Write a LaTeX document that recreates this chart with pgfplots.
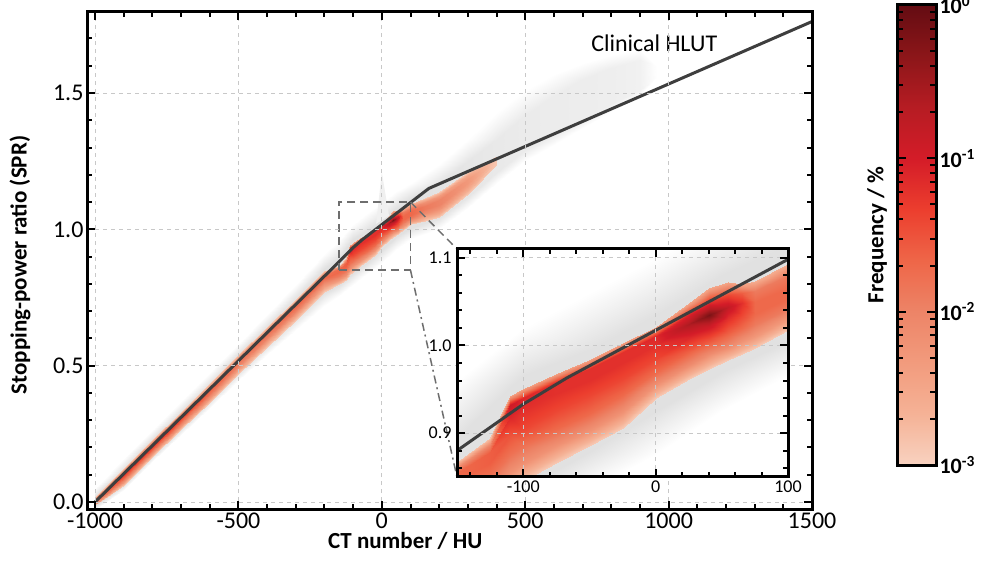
\documentclass[border=0pt]{standalone}
\usepackage{fontspec}
\setmainfont{Carlito}
\usepackage{pgfplots}
\usepackage{pgfplotstable}
\pgfplotsset{compat=1.18}

\definecolor{hlut}{RGB}{62,62,62}
\definecolor{gridc}{RGB}{200,200,200}
\definecolor{boxc}{RGB}{110,110,110}

% red band of the 2D histogram: 7 points across the band per CT number
% columns: x (HU), y (SPR), c = log10(frequency / %)
\pgfplotstableread{
x y c
-1000 -0.012 -2.9
-1000 -0.006 -2.3
-1000 0.000 -1.8
-1000 0.004 -1.6
-1000 0.008 -1.9
-1000 0.013 -2.4
-1000 0.018 -2.9
-900 0.062 -2.9
-900 0.074 -2.3
-900 0.088 -1.7
-900 0.101 -1.2
-900 0.109 -1.5
-900 0.116 -2.2
-900 0.124 -2.9
-800 0.164 -2.9
-800 0.176 -2.3
-800 0.191 -1.7
-800 0.204 -1.1
-800 0.212 -1.5
-800 0.219 -2.2
-800 0.227 -2.9
-700 0.266 -2.9
-700 0.279 -2.3
-700 0.294 -1.8
-700 0.307 -1.3
-700 0.315 -1.6
-700 0.323 -2.2
-700 0.331 -2.9
-600 0.368 -2.9
-600 0.382 -2.3
-600 0.397 -1.9
-600 0.410 -1.6
-600 0.419 -1.8
-600 0.427 -2.3
-600 0.435 -2.9
-500 0.470 -2.9
-500 0.485 -2.4
-500 0.500 -2.0
-500 0.513 -1.8
-500 0.522 -2.0
-500 0.530 -2.4
-500 0.538 -2.9
-400 0.570 -2.9
-400 0.586 -2.4
-400 0.602 -2.0
-400 0.616 -1.8
-400 0.626 -2.0
-400 0.634 -2.4
-400 0.643 -2.9
-300 0.668 -2.9
-300 0.685 -2.4
-300 0.702 -2.0
-300 0.718 -1.7
-300 0.728 -1.9
-300 0.737 -2.4
-300 0.746 -2.9
-200 0.770 -2.9
-200 0.787 -2.4
-200 0.805 -2.0
-200 0.822 -1.7
-200 0.832 -1.8
-200 0.840 -2.3
-200 0.848 -2.9
-150 0.800 -2.9
-150 0.815 -2.3
-150 0.830 -1.9
-150 0.845 -1.7
-150 0.855 -1.7
-150 0.861 -2.1
-150 0.867 -2.8
-125 0.815 -2.9
-125 0.832 -2.2
-125 0.850 -1.8
-125 0.866 -1.6
-125 0.878 -1.6
-125 0.886 -2.0
-125 0.894 -2.8
-110 0.835 -2.9
-110 0.855 -2.2
-110 0.875 -1.8
-110 0.898 -1.5
-110 0.918 -1.1
-110 0.932 -0.9
-110 0.942 -2.4
-100 0.845 -2.9
-100 0.865 -2.2
-100 0.885 -1.8
-100 0.905 -1.4
-100 0.925 -1.2
-100 0.940 -1.1
-100 0.950 -2.4
-75 0.866 -2.9
-75 0.885 -2.2
-75 0.905 -1.7
-75 0.925 -1.4
-75 0.945 -1.2
-75 0.958 -1.2
-75 0.967 -2.4
-50 0.885 -2.9
-50 0.903 -2.2
-50 0.922 -1.7
-50 0.942 -1.4
-50 0.960 -1.2
-50 0.973 -1.2
-50 0.983 -2.4
-25 0.906 -2.9
-25 0.924 -2.2
-25 0.943 -1.7
-25 0.962 -1.4
-25 0.980 -1.2
-25 0.993 -1.2
-25 1.003 -2.4
0 0.940 -2.9
0 0.955 -2.2
0 0.970 -1.7
0 0.985 -1.4
0 1.000 -1.2
0 1.011 -1.1
0 1.021 -2.4
25 0.962 -2.9
25 0.978 -2.1
25 0.994 -1.6
25 1.010 -1.1
25 1.024 -0.6
25 1.036 -1.1
25 1.048 -2.5
40 0.973 -2.9
40 0.990 -2.1
40 1.006 -1.5
40 1.022 -0.9
40 1.035 -0.2
40 1.050 -1.2
40 1.066 -2.5
55 0.983 -2.9
55 0.998 -2.1
55 1.014 -1.6
55 1.030 -1.2
55 1.044 -0.8
55 1.058 -1.4
55 1.072 -2.5
65 0.990 -2.9
65 1.005 -2.2
65 1.020 -1.7
65 1.035 -1.4
65 1.048 -1.2
65 1.060 -1.6
65 1.070 -2.5
75 0.997 -2.9
75 1.010 -2.3
75 1.023 -1.9
75 1.036 -1.7
75 1.050 -1.7
75 1.062 -1.9
75 1.074 -2.6
100 1.018 -2.9
100 1.030 -2.3
100 1.042 -1.9
100 1.054 -1.7
100 1.066 -1.7
100 1.080 -1.9
100 1.093 -2.6
150 1.031 -2.9
150 1.045 -2.5
150 1.059 -2.1
150 1.073 -1.9
150 1.087 -1.9
150 1.101 -2.2
150 1.115 -2.9
200 1.045 -2.9
200 1.060 -2.5
200 1.076 -2.2
200 1.091 -2.0
200 1.106 -2.0
200 1.122 -2.3
200 1.137 -2.9
300 1.130 -2.9
300 1.144 -2.6
300 1.158 -2.4
300 1.171 -2.3
300 1.185 -2.3
300 1.198 -2.5
300 1.212 -2.9
400 1.240 -2.9
400 1.245 -2.9
400 1.250 -2.9
400 1.255 -2.9
400 1.260 -2.9
400 1.265 -2.9
400 1.270 -2.9
}\band

% grey halo (frequencies below 1e-3): 4 points across per CT number
\pgfplotstableread{
x y c
-1000 -0.030 -3
-1000 -0.014 -0.3
-1000 0.022 -0.3
-1000 0.050 -3
-900 0.045 -3
-900 0.064 -0.3
-900 0.126 -0.3
-900 0.160 -3
-800 0.145 -3
-800 0.166 -0.3
-800 0.230 -0.3
-800 0.265 -3
-700 0.245 -3
-700 0.268 -0.3
-700 0.334 -0.3
-700 0.370 -3
-600 0.345 -3
-600 0.370 -0.3
-600 0.438 -0.3
-600 0.475 -3
-500 0.445 -3
-500 0.472 -0.3
-500 0.541 -0.3
-500 0.580 -3
-400 0.540 -3
-400 0.572 -0.3
-400 0.646 -0.3
-400 0.690 -3
-300 0.630 -3
-300 0.670 -0.3
-300 0.750 -0.3
-300 0.800 -3
-200 0.720 -3
-200 0.765 0
-200 0.855 0
-200 0.910 -3
-150 0.755 -3
-150 0.795 0
-150 0.895 0
-150 0.960 -3
-100 0.795 -3
-100 0.838 0
-100 0.965 0
-100 1.020 -3
-50 0.835 -3
-50 0.878 0
-50 0.995 0
-50 1.060 -3
0 0.875 -3
0 0.925 0
0 1.035 0
0 1.100 -3
50 0.925 -3
50 0.970 0
50 1.080 0
50 1.140 -3
100 0.965 -3
100 1.005 0
100 1.115 0
100 1.170 -3
200 1.000 -3
200 1.040 -0.2
200 1.165 -0.2
200 1.240 -3
300 1.080 -3
300 1.120 -0.5
300 1.250 -0.5
300 1.330 -3
400 1.170 -3
400 1.210 -0.8
400 1.330 -0.8
400 1.430 -3
500 1.250 -3
500 1.290 -1.0
500 1.420 -1.0
500 1.510 -3
600 1.310 -3
600 1.345 -1.1
600 1.490 -1.1
600 1.570 -3
700 1.370 -3
700 1.400 -1.2
700 1.550 -1.2
700 1.610 -3
800 1.430 -3
800 1.460 -1.3
800 1.590 -1.3
800 1.640 -3
900 1.490 -3
900 1.510 -1.6
900 1.620 -1.6
900 1.660 -3
960 1.560 -3
960 1.580 -3
960 1.600 -3
960 1.630 -3
}\halo

% clinical HLUT
\pgfplotstableread{
x y
-1000 0.000
-150 0.880
-100 0.933
-67 0.963
164 1.150
1500 1.762
}\hlut

% colour scale, log10(frequency / %)
\pgfplotstableread{
x y c
0 -3 -3
1 -3 -3
0 0 0
1 0 0
}\scale

\pgfplotsset{
  sprmap/.style={colormap={spr}{rgb255=(248,210,192) rgb255=(245,178,150)
    rgb255=(242,155,125) rgb255=(237,132,103) rgb255=(238,102,72)
    rgb255=(236,62,46) rgb255=(212,28,40) rgb255=(182,28,35)
    rgb255=(140,22,25) rgb255=(100,12,18)}},
  halomap/.style={colormap={halo}{rgb255=(255,255,255) rgb255=(225,225,225)}},
  frame/.style={
    scale only axis, anchor=south west, axis on top,
    tick align=inside,
    major tick length=8pt, minor tick length=5pt,
    tick style={black, line width=2pt},
    axis line style={line width=3pt},
    point meta min=-3, point meta max=0,
  },
}

\begin{document}
\begin{tikzpicture}
\useasboundingbox (0,0) rectangle (992pt,565pt);

\begin{axis}[
  frame, name=main, sprmap,
  grid=major,
  major grid style={gridc, line width=0.8pt, dash pattern=on 4pt off 4pt},
  at={(87pt,56pt)}, width=725pt, height=497pt,
  xmin=-1028, xmax=1500, ymin=-0.0257, ymax=1.797,
  xtick={-1000,-500,0,500,1000,1500},
  xticklabels={-1000,-500,0,500,1000,1500},
  minor xtick={-900,-800,...,1400},
  ytick={0,0.5,1,1.5},
  yticklabels={0.0,0.5,1.0,1.5},
  minor ytick={0.1,0.2,0.3,0.4,0.6,0.7,0.8,0.9,1.1,1.2,1.3,1.4,1.6,1.7},
  tick label style={font=\fontsize{24}{24}\selectfont},
  xlabel={CT number / HU},
  ylabel={Stopping-power ratio (SPR)},
  every axis x label/.style={at={(axis description cs:0.439,-0.0650)},anchor=center,
    font=\bfseries\fontsize{23}{23}\selectfont},
  every axis y label/.style={at={(axis description cs:-0.0924,0.491)},anchor=center,rotate=90,
    font=\bfseries\fontsize{23}{23}\selectfont},
]
\addplot[surf, shader=interp, halomap, mesh/rows=24, mesh/cols=4,
  point meta=\thisrow{c}] table[x=x, y=y] {\halo};
\addplot[fill=black!6, draw=none] coordinates {(-20,1.02) (0,1.21) (25,1.05)} -- cycle;
\addplot[surf, shader=interp, mesh/rows=27, mesh/cols=7,
  point meta=\thisrow{c}] table[x=x, y=y] {\band};
\addplot[hlut, line width=3pt] table[x=x, y=y] {\hlut};
\addplot[boxc, line width=1.5pt, dash pattern=on 8pt off 5pt]
  coordinates {(-150,0.85) (100,0.85) (100,1.1) (-150,1.1) (-150,0.85)};
\node[font=\fontsize{24}{24}\selectfont] at (axis cs:950,1.683) {Clinical HLUT};
\coordinate (bTR) at (axis cs:100,1.1);
\coordinate (bBR) at (axis cs:100,0.85);
\end{axis}

\draw[boxc, line width=1.5pt, dash pattern=on 8pt off 5pt] (bTR) -- (457pt,316pt);
\draw[boxc, line width=1.5pt, dash pattern=on 8pt off 4pt on 2pt off 4pt] (bBR) -- (457pt,88pt);

\begin{axis}[
  frame, name=inset, sprmap,
  grid=major,
  major grid style={gridc, line width=0.8pt, dash pattern=on 4pt off 4pt},
  at={(457pt,88pt)}, width=331pt, height=228pt,
  xmin=-150, xmax=100, ymin=0.85, ymax=1.11,
  axis background/.style={fill=white},
  xtick={-100,0,100}, xticklabels={-100,0,100},
  minor xtick={-140,-120,-80,-60,-40,-20,20,40,60,80},
  ytick={0.9,1.0,1.1}, yticklabels={0.9,1.0,1.1},
  minor ytick={0.86,0.88,0.92,0.94,0.96,0.98,1.02,1.04,1.06,1.08},
  tick label style={font=\fontsize{18}{18}\selectfont},
  yticklabel style={xshift=-2pt},
]
\addplot[surf, shader=interp, halomap, mesh/rows=24, mesh/cols=4,
  point meta=\thisrow{c}] table[x=x, y=y] {\halo};
\addplot[surf, shader=interp, mesh/rows=27, mesh/cols=7,
  point meta=\thisrow{c}] table[x=x, y=y] {\band};
\addplot[hlut, line width=3pt] table[x=x, y=y] {\hlut};
\end{axis}

% colour scale
\begin{axis}[
  frame, name=scale, sprmap,
  at={(897pt,100pt)}, width=39pt, height=460pt,
  xmin=0, xmax=1, ymin=-3, ymax=0,
  xtick=\empty,
  ytick={-3,-2,-1,0},
  yticklabels={\textbf{10\textsuperscript{-3}},\textbf{10\textsuperscript{-2}},
               \textbf{10\textsuperscript{-1}},\textbf{10\textsuperscript{0}}},
  minor ytick={-2.69897,-2.52288,-2.39794,-2.30103,-2.22185,-2.15490,-2.09691,-2.04576,
               -1.69897,-1.52288,-1.39794,-1.30103,-1.22185,-1.15490,-1.09691,-1.04576,
               -0.69897,-0.52288,-0.39794,-0.30103,-0.22185,-0.15490,-0.09691,-0.04576},
  ytick pos=both, yticklabel pos=right,
  major tick length=9pt, minor tick length=6pt,
  yticklabel style={font=\bfseries\fontsize{22}{22}\selectfont},
  ylabel={Frequency / \%},
  every axis y label/.style={at={(axis description cs:-0.51,0.5)},anchor=center,rotate=90,
    font=\bfseries\fontsize{23}{23}\selectfont},
]
\addplot[surf, shader=interp, mesh/rows=2, mesh/cols=2,
  point meta=\thisrow{c}] table[x=x, y=y] {\scale};
\end{axis}
\end{tikzpicture}
\end{document}
